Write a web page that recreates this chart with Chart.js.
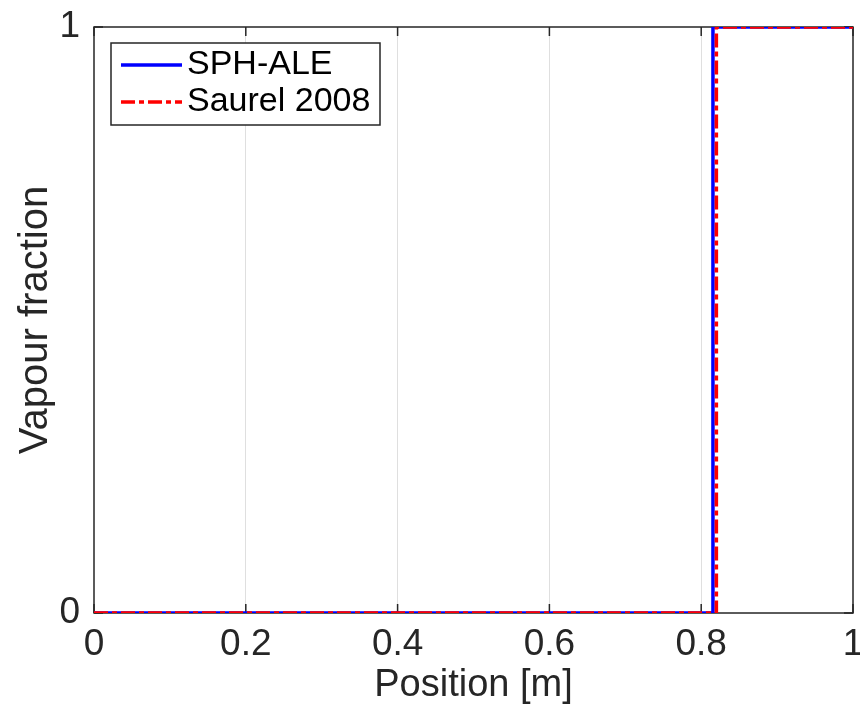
<!DOCTYPE html>
<html>
<head>
<meta charset="utf-8">
<script src="https://cdn.jsdelivr.net/npm/chart.js@4/dist/chart.umd.min.js"></script>
<style>
html,body{margin:0;padding:0;background:#fff;}
#wrap{width:860px;height:708px;}
</style>
</head>
<body>
<div id="wrap"><canvas id="c" width="860" height="708"></canvas></div>
<script>
// Data
const seriesNames = ['SPH-ALE', 'Saurel 2008'];
const sphX = [0, 0.8155, 0.8155, 1];
const sphY = [0, 0, 1, 1];
const saurelX = [0, 0.82, 0.82, 1];
const saurelY = [0, 0, 1, 1];
const xTicks = [0, 0.2, 0.4, 0.6, 0.8, 1];
const yTicks = [0, 1];
const xTitle = 'Position [m]';
const yTitle = 'Vapour fraction';

const FONT = '"Liberation Sans", Arial, Helvetica, sans-serif';
const TXT = '#262626';

function pts(xs, ys){ return xs.map((x,i)=>({x:x, y:ys[i]})); }

const frame = {
  id:'frame',
  beforeDatasetsDraw(chart){
    const {ctx, chartArea:a, scales} = chart;
    ctx.save();
    ctx.strokeStyle = TXT;
    ctx.lineWidth = 1.5;
    ctx.strokeRect(a.left, a.top, a.right-a.left, a.bottom-a.top);
    xTicks.forEach(v=>{
      const px = scales.x.getPixelForValue(v);
      ctx.beginPath();
      ctx.moveTo(px, a.bottom); ctx.lineTo(px, a.bottom-9);
      ctx.moveTo(px, a.top); ctx.lineTo(px, a.top+9);
      ctx.stroke();
    });
    yTicks.forEach(v=>{
      const py = scales.y.getPixelForValue(v);
      ctx.beginPath();
      ctx.moveTo(a.left, py); ctx.lineTo(a.left+9, py);
      ctx.moveTo(a.right, py); ctx.lineTo(a.right-9, py);
      ctx.stroke();
    });
    ctx.restore();
  },
  afterDatasetsDraw(chart){
    const {ctx} = chart;
    const ds = chart.data.datasets;
    ctx.save();
    const bx=111, by=43, bw=269, bh=82;
    ctx.fillStyle='#fff';
    ctx.fillRect(bx,by,bw,bh);
    ctx.strokeStyle=TXT; ctx.lineWidth=1.5;
    ctx.strokeRect(bx,by,bw,bh);
    const rows=[65,102];
    ds.forEach((d,i)=>{
      ctx.beginPath();
      ctx.strokeStyle=d.borderColor;
      ctx.lineWidth=3.5;
      ctx.setLineDash(d.borderDash||[]);
      ctx.moveTo(121,rows[i]); ctx.lineTo(182,rows[i]);
      ctx.stroke();
      ctx.setLineDash([]);
      ctx.fillStyle='#000';
      ctx.font='34px '+FONT;
      ctx.textBaseline='alphabetic';
      ctx.textAlign='left';
      ctx.fillText(d.label,187,rows[i]+9);
    });
    ctx.restore();
  }
};

new Chart(document.getElementById('c'), {
  type:'line',
  data:{
    datasets:[
      {label:seriesNames[0], data:pts(sphX,sphY), borderColor:'#0000ff', borderWidth:3.5, pointRadius:0, fill:false, tension:0, order:1},
      {label:seriesNames[1], data:pts(saurelX,saurelY), borderColor:'#ff0000', borderWidth:3.5, borderDash:[14,4,5,4], pointRadius:0, fill:false, tension:0, order:0}
    ]
  },
  options:{
    responsive:false,
    animation:false,
    events:[],
    layout:{padding:{top:27,right:7,left:0,bottom:0}},
    plugins:{legend:{display:false}, tooltip:{enabled:false}},
    scales:{
      x:{
        type:'linear', min:0, max:1,
        afterBuildTicks(s){ s.ticks = xTicks.map(v=>({value:v})); },
        afterFit(s){ s.height = 95; s.paddingLeft = 0; s.paddingRight = 0; },
        ticks:{ font:{family:FONT,size:37}, color:TXT, padding:10, maxRotation:0,
          callback:(v)=> String(v) },
        grid:{ color:(c)=> (c.tick && (c.tick.value===0||c.tick.value===1)) ? 'rgba(0,0,0,0)' : '#dfdfdf', lineWidth:1, drawTicks:false },
        border:{display:false},
        title:{display:true, text:xTitle, font:{family:FONT,size:38}, color:TXT, padding:{top:0,bottom:0}}
      },
      y:{
        type:'linear', min:0, max:1,
        afterBuildTicks(s){ s.ticks = yTicks.map(v=>({value:v})); },
        afterFit(s){ s.width = 94; s.paddingTop = 0; s.paddingBottom = 0; },
        ticks:{ font:{family:FONT,size:37}, color:TXT, padding:14, callback:(v)=>String(v) },
        grid:{ display:false, drawTicks:false },
        border:{display:false},
        title:{display:true, text:yTitle, font:{family:FONT,size:40}, color:TXT, padding:{top:12,bottom:0}}
      }
    }
  },
  plugins:[frame]
});
</script>
</body>
</html>
